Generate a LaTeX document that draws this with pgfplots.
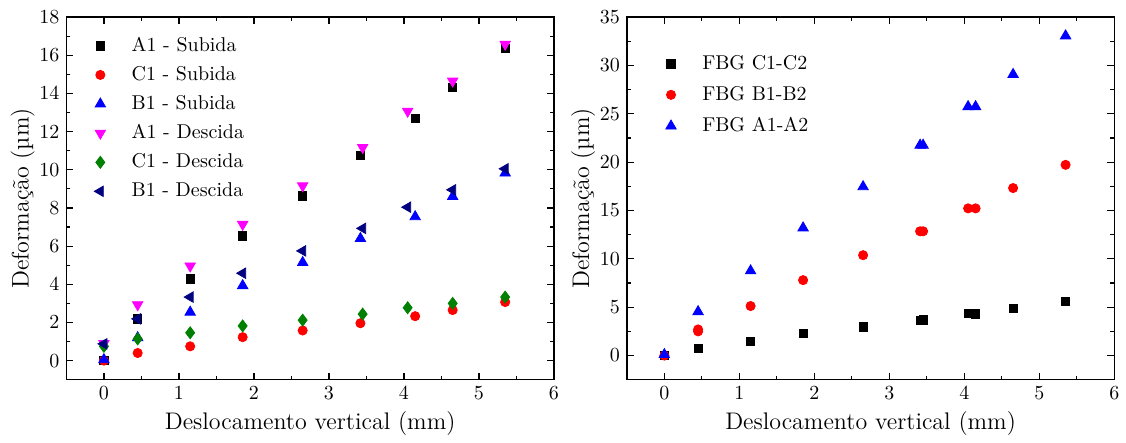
\documentclass[border=0pt]{standalone}
\usepackage{pgfplots}
\pgfplotsset{compat=1.18}
\definecolor{navyc}{RGB}{0,0,128}
\definecolor{greenc}{RGB}{0,128,0}
\definecolor{magc}{RGB}{255,0,255}
\pgfplotsset{
  myaxis/.style={
    scale only axis,
    width=244pt, height=181.5pt,
    axis line style={line width=0.7pt},
    every tick/.style={black, line width=0.6pt},
    major tick length=3.5pt, minor tick length=2pt,
    xmin=-0.5, xmax=6, xtick={0,1,2,3,4,5,6},
    minor x tick num=1, minor y tick num=1,
    xlabel={Deslocamento vertical (mm)},
    ylabel={Deformação (µm)},
    label style={font=\large},
    xlabel style={yshift=1pt},
    ylabel style={yshift=-4.5pt},
    legend cell align=left,
    legend style={draw=none, fill=none, font=\normalsize},
    legend image code/.code={\path[draw=none] (-0.15cm,0cm) -- (0.48cm,0cm);\draw[mark repeat=2,mark phase=2] plot coordinates {(-0.1cm,0cm)(0cm,0cm)(0.1cm,0cm)};},
  },
  sq/.style={only marks, mark=square*, mark size=2.1pt, color=#1, mark options={fill=#1, draw=#1}},
  ci/.style={only marks, mark=*, mark size=2.3pt, color=#1, mark options={fill=#1, draw=#1}},
  tu/.style={only marks, mark=triangle*, mark size=3pt, color=#1, mark options={fill=#1, draw=#1}},
  td/.style={only marks, mark=triangle*, mark size=3pt, color=#1, mark options={fill=#1, draw=#1, rotate=180}},
  tl/.style={only marks, mark=triangle*, mark size=3pt, color=#1, mark options={fill=#1, draw=#1, rotate=90}},
  di/.style={only marks, mark=diamond*, mark size=3pt, color=#1, mark options={fill=#1, draw=#1}},
}
\begin{document}
\begin{tikzpicture}
\begin{axis}[myaxis, ymin=-1, ymax=18, ytick={0,2,...,18},
  legend style={at={(0.039,0.968)}, anchor=north west, row sep=2pt}]
\addplot[sq=black] coordinates {(0,0.02)(0.45,2.19)(1.15,4.28)(1.85,6.54)(2.65,8.63)(3.42,10.74)(4.15,12.68)(4.65,14.33)(5.35,16.35)};
\addlegendentry{A1 - Subida}
\addplot[ci=red] coordinates {(0,0)(0.45,0.40)(1.15,0.75)(1.85,1.23)(2.65,1.58)(3.42,1.96)(4.15,2.33)(4.65,2.65)(5.35,3.07)};
\addlegendentry{C1 - Subida}
\addplot[tu=blue] coordinates {(0,0.05)(0.45,1.2)(1.15,2.54)(1.85,3.93)(2.65,5.14)(3.42,6.4)(4.15,7.54)(4.65,8.6)(5.35,9.83)};
\addlegendentry{B1 - Subida}
\addplot[td=magc] coordinates {(0,0.9)(0.45,2.93)(1.15,4.96)(1.85,7.14)(2.65,9.16)(3.45,11.17)(4.05,13.07)(4.65,14.65)(5.35,16.58)};
\addlegendentry{A1 - Descida}
\addplot[di=greenc] coordinates {(0,0.75)(0.45,1.14)(1.15,1.46)(1.85,1.82)(2.65,2.12)(3.45,2.44)(4.05,2.77)(4.65,3.0)(5.35,3.33)};
\addlegendentry{C1 - Descida}
\addplot[tl=navyc] coordinates {(0,0.88)(0.45,2.19)(1.15,3.33)(1.85,4.58)(2.65,5.75)(3.45,6.93)(4.05,8.04)(4.65,8.95)(5.35,10.05)};
\addlegendentry{B1 - Descida}
\end{axis}
\begin{axis}[myaxis, xshift=280.5pt, ymin=-2.5, ymax=35, ytick={0,5,...,35},
  legend style={at={(0.060,0.918)}, anchor=north west, row sep=3pt}]
\addplot[sq=black] coordinates {(0,0)(0.45,0.76)(1.15,1.48)(1.85,2.27)(2.65,2.96)(3.41,3.61)(3.45,3.68)(4.05,4.36)(4.15,4.30)(4.65,4.88)(5.35,5.6)};
\addlegendentry{FBG C1-C2}
\addplot[ci=red] coordinates {(0,0)(0.45,2.5)(0.45,2.7)(1.15,5.12)(1.85,7.8)(2.65,10.38)(3.41,12.85)(3.45,12.85)(4.05,15.22)(4.15,15.22)(4.65,17.32)(5.35,19.72)};
\addlegendentry{FBG B1-B2}
\addplot[tu=blue] coordinates {(0,0.1)(0.45,4.54)(1.15,8.76)(1.85,13.2)(2.65,17.46)(3.41,21.75)(3.45,21.75)(4.05,25.74)(4.15,25.74)(4.65,29.07)(5.35,33.06)};
\addlegendentry{FBG A1-A2}
\end{axis}
\path (current bounding box.north west) ++(-2pt,2pt) coordinate (padA);
\end{tikzpicture}
\end{document}
